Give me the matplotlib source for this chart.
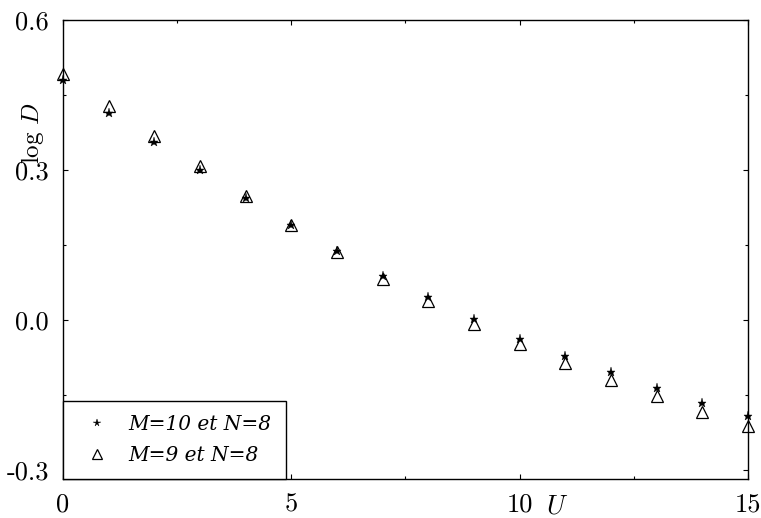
import numpy as np
import matplotlib
matplotlib.use("Agg")
import matplotlib.pyplot as plt
from matplotlib.ticker import MultipleLocator, FixedLocator, FixedFormatter

plt.rcParams['mathtext.fontset'] = 'cm'
plt.rcParams['font.family'] = 'cmr10'
plt.rcParams['xtick.labelsize'] = 19
plt.rcParams['ytick.labelsize'] = 19

# log D versus U for the two lattice sizes
U = np.arange(0, 16)
logD_m10 = [0.481, 0.415, 0.357, 0.300, 0.245, 0.191, 0.139, 0.088,
            0.047, 0.003, -0.037, -0.072, -0.103, -0.135, -0.165, -0.192]
logD_m9 = [0.492, 0.429, 0.368, 0.308, 0.249, 0.191, 0.136, 0.083,
           0.039, -0.007, -0.048, -0.085, -0.119, -0.151, -0.183, -0.211]

label_m10 = "M=10 et N=8"
label_m9 = "M=9 et N=8"

xticks = [0, 5, 10, 15]
xticklabels = ["0", "5", "10", "15"]
yticks = [-0.3, 0.0, 0.3, 0.6]
yticklabels = ["-0.3", "0.0", "0.3", "0.6"]

fig = plt.figure(figsize=(7.61, 5.18), dpi=100)
ax = fig.add_axes([63 / 761, (518 - 479) / 518, (748 - 63) / 761, (479 - 20) / 518])

ax.plot(U, logD_m10, linestyle='none', marker='*', ms=6.5, color='black',
        mec='black', mew=0.3, label=label_m10, clip_on=False, zorder=3)
ax.plot(U, logD_m9, linestyle='none', marker='^', ms=8.5, mfc='none',
        mec='black', mew=0.9, label=label_m9, clip_on=False, zorder=3)

ax.set_xlim(0, 15)
ax.set_ylim(-0.318, 0.6)

ax.xaxis.set_major_locator(FixedLocator(xticks))
ax.xaxis.set_major_formatter(FixedFormatter(xticklabels))
ax.xaxis.set_minor_locator(MultipleLocator(2.5))
ax.yaxis.set_major_locator(FixedLocator(yticks))
ax.yaxis.set_major_formatter(FixedFormatter(yticklabels))
ax.yaxis.set_minor_locator(MultipleLocator(0.15))

ax.tick_params(which='both', direction='in', top=True, right=True, width=0.8)
ax.tick_params(which='major', length=3.5)
ax.tick_params(which='minor', length=2.5)
ax.tick_params(axis='x', which='major', pad=10)
ax.tick_params(axis='y', which='major', pad=10)
for sp in ax.spines.values():
    sp.set_linewidth(1.0)

# axis titles placed by hand in pixel/data coordinates
ax.text(32, 518 - 133, r"$\log\,D$", transform=None, rotation=90,
        ha='center', va='center', fontsize=18)
ax.text(10.82, -0.374, r"$U$", ha='center', va='center', fontsize=19,
        clip_on=False)

leg = ax.legend(loc='lower left', bbox_to_anchor=(0, 0), borderaxespad=0,
                frameon=True, fancybox=False, edgecolor='black',
                prop=dict(family='DejaVu Serif', style='italic', size=14.5),
                handlelength=2.0, handletextpad=0.55, borderpad=0.7,
                labelspacing=0.6, markerscale=0.85)
leg.get_frame().set_linewidth(1.0)
leg.get_frame().set_alpha(1)

fig.savefig("out.png", dpi=100)
